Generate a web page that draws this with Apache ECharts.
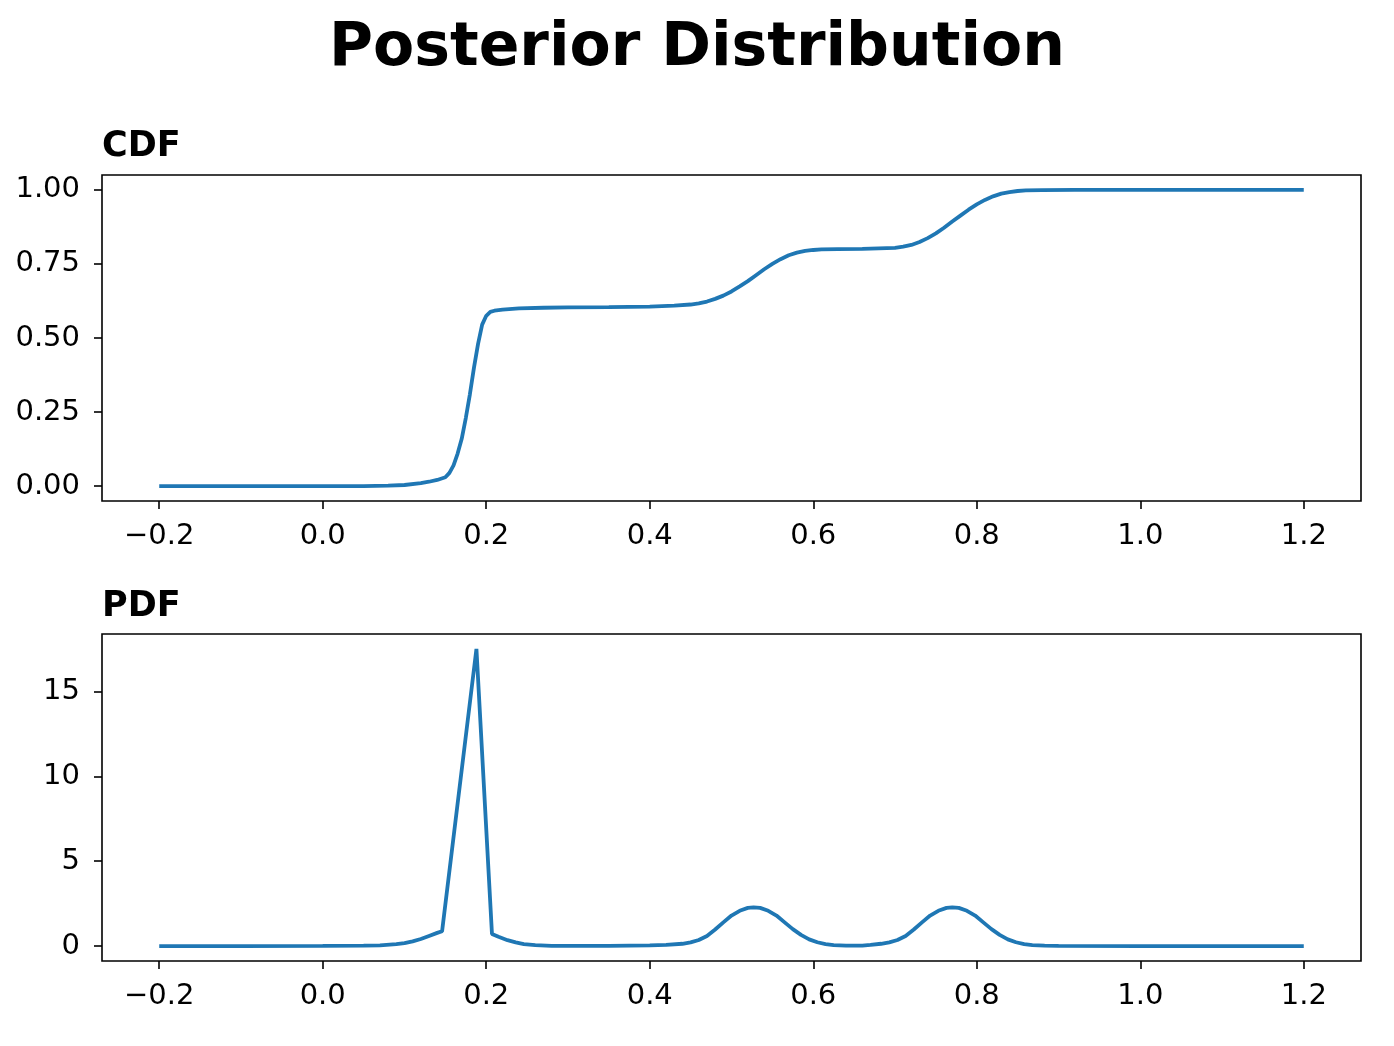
<!DOCTYPE html>
<html>
<head>
<meta charset="utf-8">
<title>Posterior Distribution</title>
<script src="https://cdn.jsdelivr.net/npm/echarts@6/dist/echarts.min.js"></script>
<style>
  html, body { margin: 0; padding: 0; background: #fff; }
  #chart { width: 1394px; height: 1046px; }
</style>
</head>
<body>
<div id="chart"></div>
<script>
// values
var cdfX = [-0.2, -0.1, 0.0, 0.05, 0.08, 0.1, 0.12, 0.13, 0.14, 0.15, 0.155, 0.16, 0.165, 0.17, 0.175,
  0.18, 0.185, 0.19, 0.195, 0.2, 0.205, 0.21, 0.22, 0.24, 0.27, 0.3, 0.35, 0.4, 0.43, 0.45,
  0.46, 0.47, 0.48, 0.49, 0.5, 0.51, 0.52, 0.53, 0.54, 0.55, 0.56, 0.57, 0.58, 0.59, 0.6, 0.61,
  0.63, 0.66, 0.7, 0.71, 0.72, 0.73, 0.74, 0.75, 0.76, 0.77, 0.78, 0.79, 0.8, 0.81, 0.82, 0.83,
  0.84, 0.85, 0.86, 0.88, 0.92, 1.0, 1.1, 1.2];
var cdfY = [0, 0, 0, 0.0005, 0.002, 0.004, 0.010, 0.015, 0.021, 0.03, 0.045, 0.07, 0.11, 0.16, 0.23,
  0.31, 0.40, 0.48, 0.545, 0.575, 0.588, 0.592, 0.596, 0.600, 0.602, 0.603, 0.604, 0.606, 0.609, 0.613,
  0.617, 0.623, 0.632, 0.643, 0.657, 0.674, 0.692, 0.712, 0.732, 0.750, 0.766, 0.779, 0.788, 0.794, 0.797, 0.799,
  0.800, 0.801, 0.804, 0.808, 0.814, 0.824, 0.837, 0.853, 0.872, 0.893, 0.913, 0.933, 0.951, 0.966, 0.978, 0.987,
  0.992, 0.996, 0.998, 0.999, 1.0, 1.0, 1.0, 1.0];

var pdfX = [-0.2, -0.1, 0.0, 0.05, 0.07, 0.09, 0.1, 0.11, 0.12, 0.13, 0.14, 0.146, 0.188, 0.207, 0.215,
  0.226, 0.236, 0.246, 0.26, 0.28, 0.3, 0.35, 0.4, 0.42,
  0.44, 0.45, 0.46, 0.47, 0.48, 0.49, 0.5, 0.51, 0.52, 0.527, 0.535, 0.545, 0.555, 0.565, 0.575,
  0.585, 0.595, 0.605, 0.615, 0.625, 0.64, 0.66, 0.67,
  0.683, 0.693, 0.703, 0.713, 0.723, 0.733, 0.743, 0.753, 0.763, 0.77, 0.778, 0.788, 0.798, 0.808,
  0.818, 0.828, 0.838, 0.848, 0.858, 0.868, 0.883, 0.9, 1.0, 1.1, 1.2];
var pdfY = [0, 0, 0.01, 0.03, 0.05, 0.12, 0.18, 0.28, 0.42, 0.6, 0.78, 0.88, 17.5, 0.72, 0.55,
  0.35, 0.22, 0.12, 0.06, 0.02, 0.01, 0.01, 0.05, 0.08,
  0.14, 0.22, 0.36, 0.6, 0.98, 1.4, 1.8, 2.08, 2.25, 2.28, 2.25, 2.08, 1.8, 1.4, 1.0,
  0.66, 0.4, 0.23, 0.12, 0.06, 0.03, 0.03, 0.07,
  0.14, 0.22, 0.36, 0.6, 0.98, 1.4, 1.8, 2.08, 2.25, 2.28, 2.25, 2.08, 1.8, 1.4,
  1.0, 0.66, 0.4, 0.23, 0.12, 0.06, 0.03, 0.01, 0, 0, 0];

var xTicks = [-0.2, 0.0, 0.2, 0.4, 0.6, 0.8, 1.0, 1.2];
var cdfTicks = [0, 0.25, 0.5, 0.75, 1.0];
var pdfTicks = [0, 5, 10, 15];

var font = 'DejaVu Sans';
var blue = '#1f77b4';

function pairs(xs, ys) {
  return xs.map(function (x, i) { return [x, ys[i]]; });
}

function fmt(v, digits) {
  var s = Math.abs(v).toFixed(digits);
  return v < -1e-9 ? '\u2212' + s : s;
}

function xAxisFor(idx) {
  return {
    type: 'value', gridIndex: idx, min: -0.27, max: 1.27, position: 'bottom',
    axisLine: { show: false, onZero: false },
    splitLine: { show: false },
    axisTick: { show: true, length: 8, customValues: xTicks, lineStyle: { color: '#000', width: 1.6 } },
    axisLabel: {
      customValues: xTicks, margin: 21, color: '#000', fontSize: 29, fontFamily: font,
      formatter: function (v) { return fmt(v, 1); }
    }
  };
}

function yAxisFor(idx, min, max, ticks, digits) {
  return {
    type: 'value', gridIndex: idx, min: min, max: max, position: 'left',
    axisLine: { show: false, onZero: false },
    splitLine: { show: false },
    axisTick: { show: true, length: 8, customValues: ticks, lineStyle: { color: '#000', width: 1.6 } },
    axisLabel: {
      customValues: ticks, margin: 22, color: '#000', fontSize: 29, fontFamily: font,
      formatter: function (v) { return fmt(v, digits); }
    }
  };
}

var chart = echarts.init(document.getElementById('chart'), null, { renderer: 'canvas' });
chart.setOption({
  backgroundColor: '#fff',
  animation: false,
  title: [
    { text: 'Posterior Distribution', left: 'center', top: 19, padding: 0,
      textStyle: { fontSize: 60, fontWeight: 'bold', fontFamily: font, color: '#000' } },
    { text: 'CDF', left: 102, top: 129, padding: 0,
      textStyle: { fontSize: 35, fontWeight: 'bold', fontFamily: font, color: '#000' } },
    { text: 'PDF', left: 102, top: 589, padding: 0,
      textStyle: { fontSize: 35, fontWeight: 'bold', fontFamily: font, color: '#000' } }
  ],
  grid: [
    { left: 102, top: 175, width: 1259, height: 326, show: true, borderColor: '#000', borderWidth: 1.6, backgroundColor: 'transparent' },
    { left: 102, top: 634, width: 1259, height: 327, show: true, borderColor: '#000', borderWidth: 1.6, backgroundColor: 'transparent' }
  ],
  xAxis: [xAxisFor(0), xAxisFor(1)],
  yAxis: [
    yAxisFor(0, -0.05, 1.05, cdfTicks, 2),
    yAxisFor(1, -0.875, 18.375, pdfTicks, 0)
  ],
  series: [
    { type: 'line', xAxisIndex: 0, yAxisIndex: 0, data: pairs(cdfX, cdfY), showSymbol: false,
      lineStyle: { color: blue, width: 3.8 } },
    { type: 'line', xAxisIndex: 1, yAxisIndex: 1, data: pairs(pdfX, pdfY), showSymbol: false,
      lineStyle: { color: blue, width: 3.8 } }
  ]
});
</script>
</body>
</html>
